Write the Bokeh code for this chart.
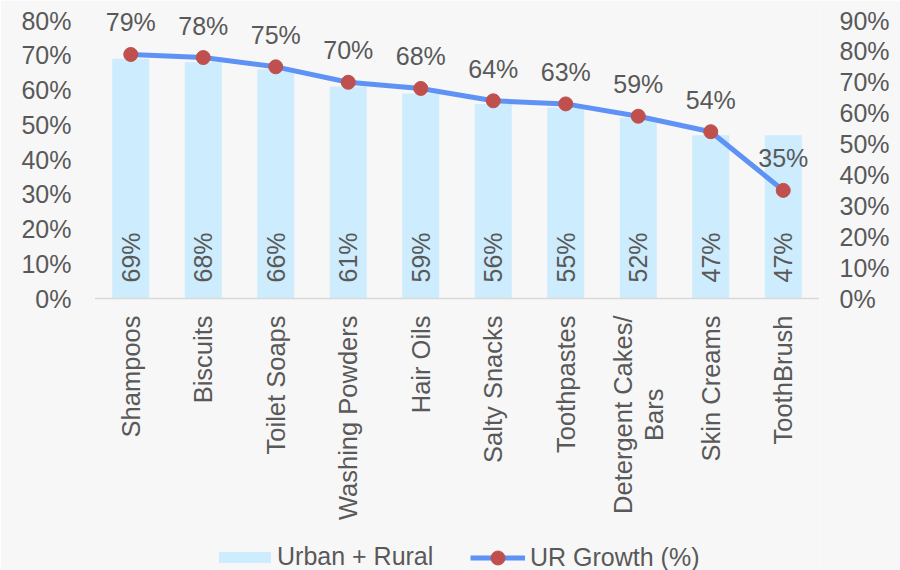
from bokeh.plotting import figure
from bokeh.models import (ColumnDataSource, Range1d, LinearAxis, FixedTicker,
                          PrintfTickFormatter, Legend, LegendItem, Span)
from bokeh.core.properties import value
from bokeh.embed import file_html
from bokeh.resources import INLINE
import math

categories = ["Shampoos", "Biscuits", "Toilet Soaps", "Washing Powders", "Hair Oils",
              "Salty Snacks", "Toothpastes", "Detergent Cakes/ Bars", "Skin Creams", "ToothBrush"]
category_labels = ["Shampoos", "Biscuits", "Toilet Soaps", "Washing Powders", "Hair Oils",
                   "Salty Snacks", "Toothpastes", "Detergent Cakes/\nBars", "Skin Creams", "ToothBrush"]
urban_rural = [69, 68, 66, 61, 59, 56, 55, 52, 47, 47]
ur_growth = [79, 78, 75, 70, 68, 64, 63, 59, 54, 35]
left_ticks = [0, 10, 20, 30, 40, 50, 60, 70, 80]
right_ticks = [0, 10, 20, 30, 40, 50, 60, 70, 80, 90]

FONT = "Liberation Sans"
FS = "25px"
FS_CAT = "25.5px"
TXT = "#595959"
BG = "#f7f7f7"

src = ColumnDataSource(dict(
    cat=categories,
    lbl=category_labels,
    ur=urban_rural,
    g=ur_growth,
    ur_lbl=[f"{v}%" for v in urban_rural],
    g_lbl=[f"{v}%" for v in ur_growth],
))

# layout: frame covers full height; zero line sits 298px from top, top tick 278px above it
W, H = 900, 570
ZERO_PX = 298
AX_PX = 278
left_per_px = 80 / AX_PX
right_per_px = 90 / AX_PX

p = figure(x_range=categories,
           y_range=Range1d(-(H - ZERO_PX) * left_per_px, ZERO_PX * left_per_px),
           width=W, height=H, output_backend="svg", toolbar_location=None,
           min_border_left=94, min_border_right=81, min_border_top=0, min_border_bottom=0,
           background_fill_color=BG, border_fill_color=BG, outline_line_color=None)
p.extra_y_ranges = {"right": Range1d(-(H - ZERO_PX) * right_per_px, ZERO_PX * right_per_px)}
p.x_range.range_padding = 0
p.grid.visible = False
p.xaxis.visible = False

bars = p.vbar(x="cat", top="ur", width=0.51, source=src, fill_color="#cdecfd", line_color=None)
p.add_layout(Span(location=0, dimension="width", line_color="#d9d9d9", line_width=1.5))
line_r = p.line(x="cat", y="g", source=src, y_range_name="right", line_color="#5f92f5", line_width=5)
pts = p.scatter(x="cat", y="g", source=src, y_range_name="right", size=14,
                fill_color="#c0504d", line_color="#c0504d")

# value labels inside bars
p.text(x="cat", y=0, text="ur_lbl", source=src, angle=math.pi / 2, text_align="left",
       text_baseline="middle", y_offset=-16, text_font=value(FONT), text_font_size=FS,
       text_color=TXT)
# value labels above the line points
p.text(x="cat", y="g", text="g_lbl", source=src, y_range_name="right", text_align="center",
       text_baseline="bottom", y_offset=-18, text_font=value(FONT), text_font_size=FS,
       text_color=TXT)
# category labels under the zero line
p.text(x="cat", y=0, text="lbl", source=src, angle=math.pi / 2, anchor="center_right",
       text_align="center", y_offset=17, text_font=value(FONT), text_font_size=FS_CAT,
       text_color=TXT, text_line_height=1.12)

ya = p.yaxis[0]
ya.ticker = FixedTicker(ticks=left_ticks)
ya.formatter = PrintfTickFormatter(format="%d%%")
ya.major_label_standoff = 23
yr = LinearAxis(y_range_name="right", ticker=FixedTicker(ticks=right_ticks),
                formatter=PrintfTickFormatter(format="%d%%"))
yr.major_label_standoff = 20
p.add_layout(yr, "right")
for a in (ya, yr):
    a.axis_line_color = None
    a.major_tick_line_color = None
    a.minor_tick_line_color = None
    a.major_tick_out = 0
    a.major_tick_in = 0
    a.major_label_text_font = FONT
    a.major_label_text_font_size = FS
    a.major_label_text_color = TXT

common = dict(orientation="horizontal", padding=0, margin=0, border_line_color=None,
              background_fill_alpha=0, label_text_font=FONT, label_text_font_size=FS,
              label_text_color=TXT)
legend_bar = Legend(items=[LegendItem(label="Urban + Rural", renderers=[bars])],
                    location=(118, -1), glyph_width=65, glyph_height=14, label_standoff=0,
                    **common)
legend_line = Legend(items=[LegendItem(label="UR Growth (%)", renderers=[line_r, pts])],
                     location=(376, -5), glyph_width=55, glyph_height=35, label_standoff=5,
                     **common)
p.add_layout(legend_bar)
p.add_layout(legend_line)

open("out.html", "w").write(file_html(p, INLINE))
